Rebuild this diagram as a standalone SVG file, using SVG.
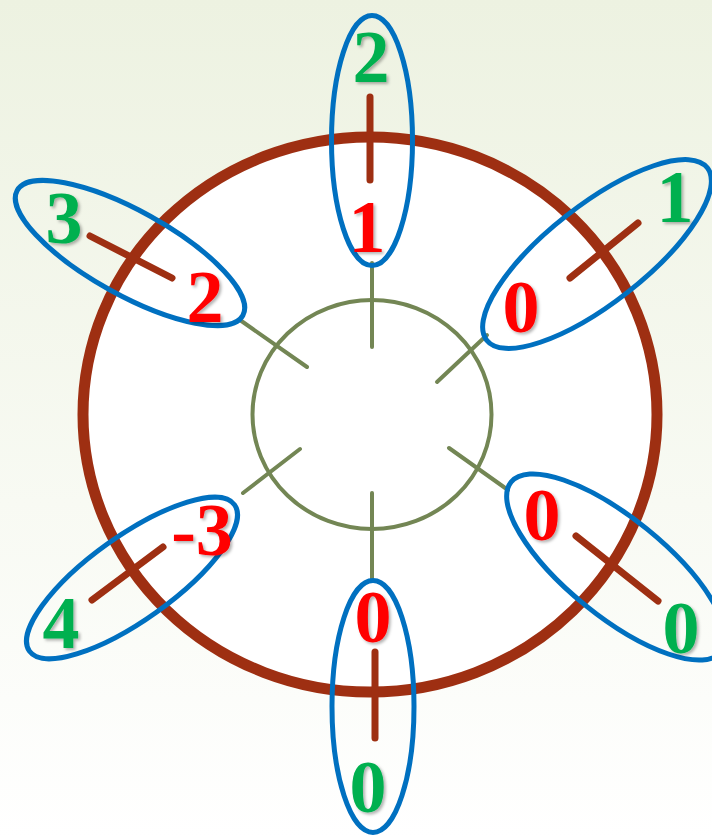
<svg xmlns="http://www.w3.org/2000/svg" width="712" height="839" viewBox="0 0 712 839">
  <defs>
    <linearGradient id="bg" x1="0" y1="0" x2="0" y2="1">
      <stop offset="0" stop-color="#EDF2E1"/>
      <stop offset="0.6" stop-color="#F8FAF3"/>
      <stop offset="1" stop-color="#FFFFFF"/>
    </linearGradient>
    <filter id="sh" x="-20%" y="-20%" width="140%" height="140%">
      <feDropShadow dx="2" dy="2" stdDeviation="1.5" flood-color="#000" flood-opacity="0.3"/>
    </filter>
    <style>
      .ring { fill: #FFFFFF; stroke: #9E2F12; stroke-width: 11; }
      .hub { fill: none; stroke: #738654; stroke-width: 4; }
      .spoke { stroke: #738654; stroke-width: 4; stroke-linecap: round; }
      .dash { stroke: #9E2F12; stroke-width: 7; stroke-linecap: round; }
      .loop { fill: none; stroke: #0070C0; stroke-width: 5; }
      .num { font-family: "Liberation Serif", "Times New Roman", serif; font-weight: bold; font-size: 74px; text-anchor: middle; filter: url(#sh); }
      .red { fill: #FF0000; }
      .grn { fill: #00B050; }
    </style>
  </defs>
  <rect x="0" y="0" width="712" height="839" fill="url(#bg)"/>

  <g id="ring">
    <ellipse class="ring" cx="370" cy="414.5" rx="287" ry="277.5"/>
  </g>
  <g id="hub">
    <ellipse class="hub" cx="372" cy="414.5" rx="119.5" ry="114.5"/>
  </g>

  <g id="connectors">
    <line class="spoke" x1="372" y1="263" x2="372" y2="347"/>
    <line class="spoke" x1="372" y1="493" x2="372" y2="580"/>
    <line class="spoke" x1="240" y1="320" x2="307" y2="367"/>
    <line class="spoke" x1="437" y1="382" x2="487" y2="335"/>
    <line class="spoke" x1="300" y1="449" x2="243" y2="493"/>
    <line class="spoke" x1="449" y1="448" x2="508" y2="490"/>
  </g>

  <g id="node-top">
    <line class="dash" x1="370" y1="97" x2="370" y2="180"/>
    <ellipse class="loop" cx="372" cy="140.5" rx="40.5" ry="125"/>
    <text class="num grn" x="371" y="82">2</text>
    <text class="num red" x="367" y="252">1</text>
  </g>

  <g id="node-upper-left">
    <line class="dash" x1="90" y1="236" x2="172" y2="278"/>
    <ellipse class="loop" cx="130" cy="253" rx="129" ry="42" transform="rotate(29 130 253)"/>
    <text class="num grn" x="64" y="243">3</text>
    <text class="num red" x="205" y="322">2</text>
  </g>

  <g id="node-upper-right">
    <line class="dash" x1="570" y1="278" x2="638" y2="223"/>
    <ellipse class="loop" cx="597" cy="254" rx="140" ry="49" transform="rotate(-38 597 254)"/>
    <text class="num red" x="521" y="332">0</text>
    <text class="num grn" x="675" y="222">1</text>
  </g>

  <g id="node-lower-left">
    <line class="dash" x1="92" y1="600" x2="163" y2="547"/>
    <ellipse class="loop" cx="132" cy="578" rx="126" ry="42" transform="rotate(-35.5 132 578)"/>
    <text class="num red" x="202" y="555">-3</text>
    <text class="num grn" x="61" y="648">4</text>
  </g>

  <g id="node-lower-right">
    <line class="dash" x1="576" y1="536" x2="658" y2="601"/>
    <ellipse class="loop" cx="616" cy="567" rx="135" ry="49" transform="rotate(39 616 567)"/>
    <text class="num red" x="542" y="540">0</text>
    <text class="num grn" x="681" y="653">0</text>
  </g>

  <g id="node-bottom">
    <line class="dash" x1="375" y1="652" x2="375" y2="738"/>
    <ellipse class="loop" cx="373" cy="706.5" rx="41" ry="126"/>
    <text class="num red" x="373" y="642">0</text>
    <text class="num grn" x="368" y="812">0</text>
  </g>
</svg>
